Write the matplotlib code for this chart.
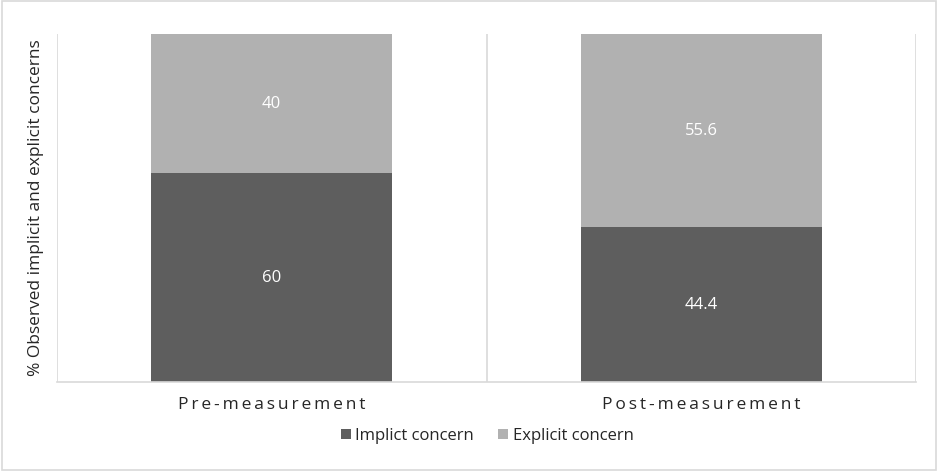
import matplotlib.pyplot as plt
from matplotlib.patches import Rectangle
import numpy as np

plt.rcParams['font.family'] = ['Open Sans', 'DejaVu Sans']

# Share of observed concerns per measurement moment (%)
categories = ['Pre-measurement', 'Post-measurement']
implicit = [60, 44.4]
explicit = [40, 55.6]
series_names = ['Implict concern', 'Explicit concern']

DARK = '#5e5e5e'
LIGHT = '#b1b1b1'
GRID = '#d9d9d9'
TEXT = '#262626'


def spaced(label):
    # letter-spaced category labels
    return '\u2009'.join(label)


fig = plt.figure(figsize=(9.39, 4.71), dpi=100)
ax = fig.add_axes([57 / 939, 89 / 471, 859 / 939, 348 / 471])

x = np.arange(len(categories))
width = 0.56

b1 = ax.bar(x, implicit, width, color=DARK, label=series_names[0], zorder=2)
b2 = ax.bar(x, explicit, width, bottom=implicit, color=LIGHT,
            label=series_names[1], zorder=2)

for rects, vals, bottoms in ((b1, implicit, [0, 0]), (b2, explicit, implicit)):
    for r, v, b in zip(rects, vals, bottoms):
        ax.text(r.get_x() + r.get_width() / 2, b + v / 2, f'{v:g}',
                ha='center', va='center', color='white', fontsize=12)

ax.set_xlim(-0.5, len(categories) - 0.5)
ax.set_ylim(0, 100)

# category separators
for xb in np.arange(-0.5, len(categories)):
    ax.axvline(xb, color=GRID, lw=1.2, zorder=1)

for side in ('top', 'right', 'left'):
    ax.spines[side].set_visible(False)
ax.spines['bottom'].set_color(GRID)
ax.spines['bottom'].set_linewidth(1.2)

ax.set_yticks([])
ax.set_xticks(x)
ax.set_xticklabels([spaced(c) for c in categories], fontsize=12.5, color=TEXT)
ax.tick_params(axis='x', length=0, pad=11)

ax.set_ylabel('% Observed implicit and explicit concerns', fontsize=12.5,
              color=TEXT, labelpad=9)

fig.legend(handles=[b1, b2], labels=series_names, loc='center',
           bbox_to_anchor=(487 / 939, 1 - 436 / 471), ncol=2, frameon=False,
           fontsize=12, handlelength=0.6, handleheight=0.6, handletextpad=0.25,
           columnspacing=1.5, labelcolor=TEXT)

# outer chart border
fig.patches.append(Rectangle((0.002, 0.003), 0.995, 0.994, transform=fig.transFigure,
                             fill=False, edgecolor=GRID, lw=1.2))

fig.savefig('out.png', dpi=100)
